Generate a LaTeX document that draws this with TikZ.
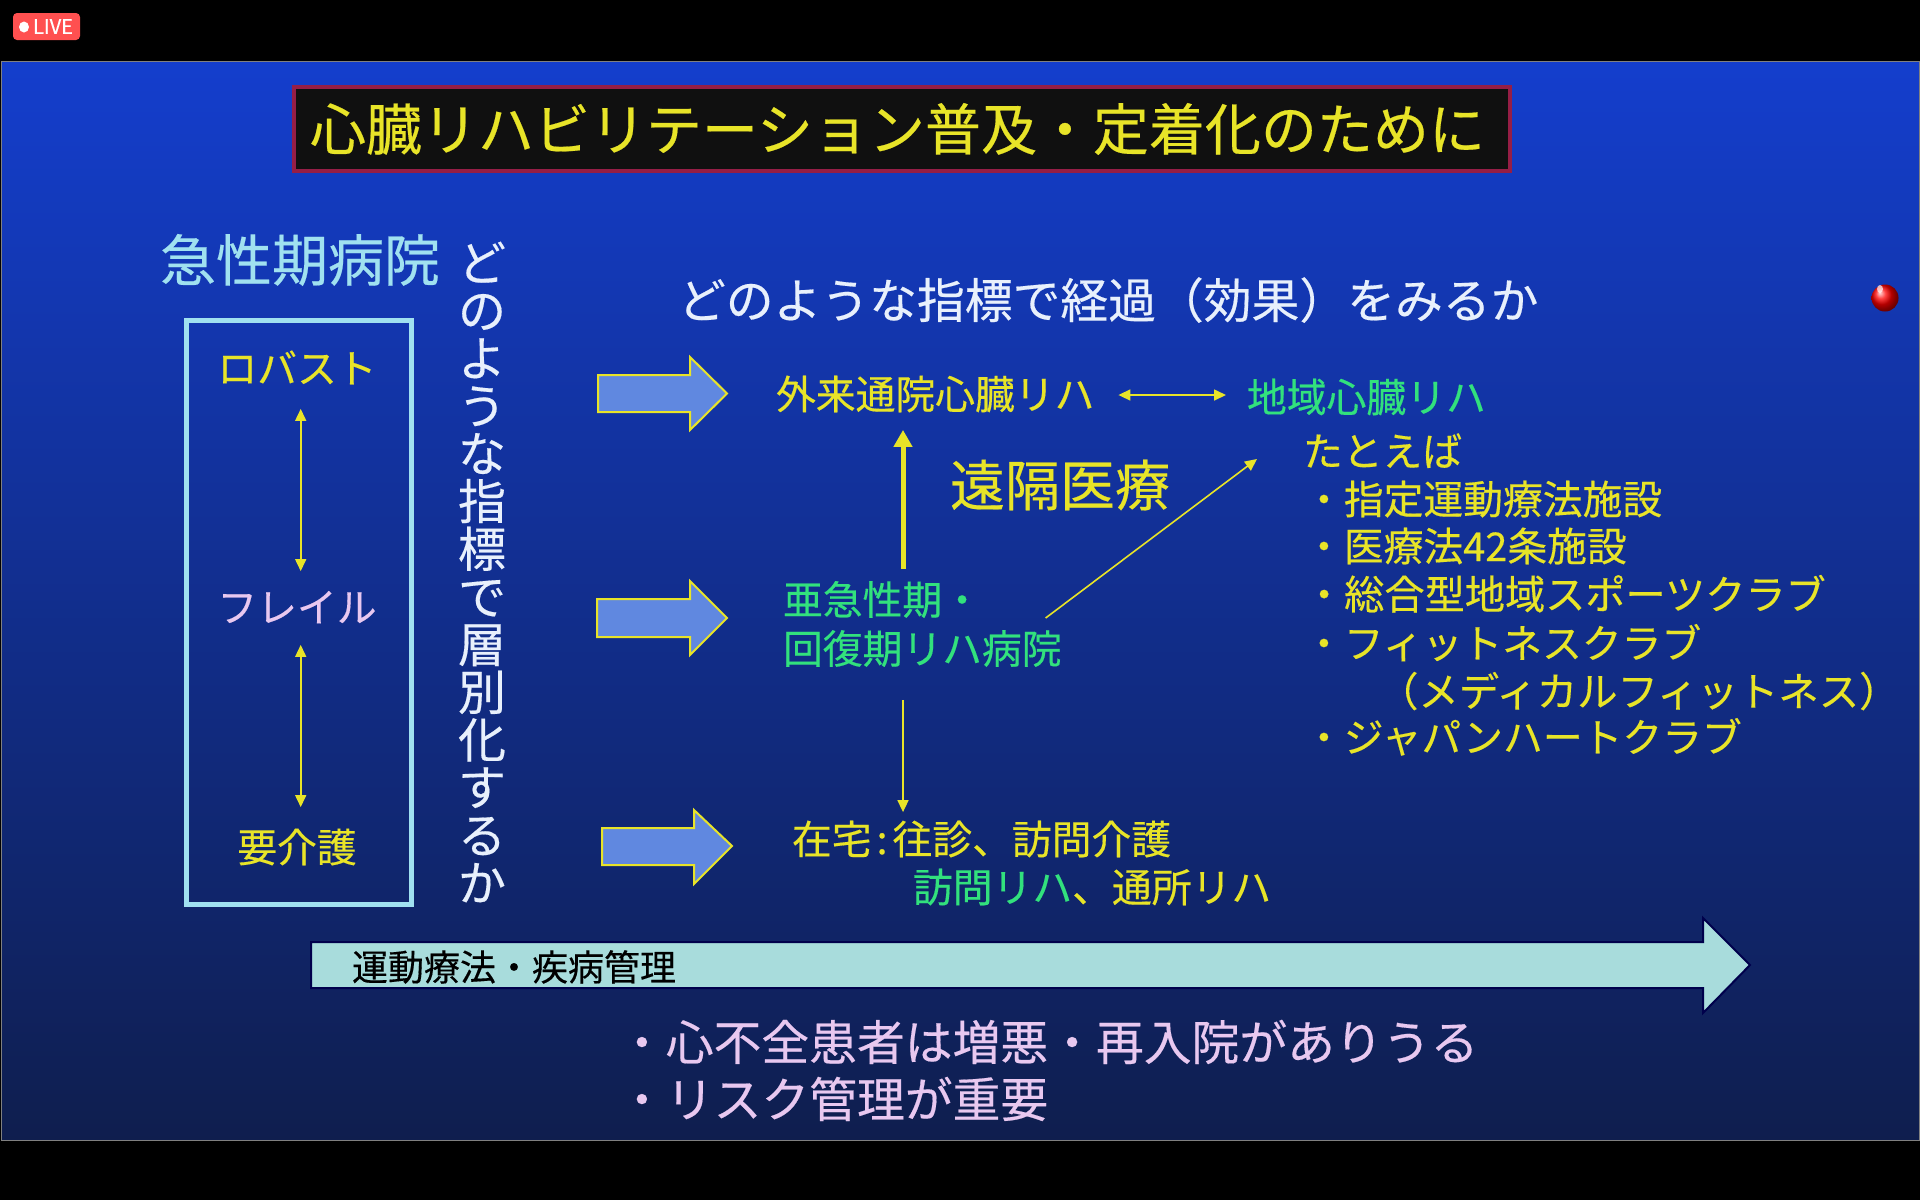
\documentclass[tikz,border=0pt]{standalone}
\usepackage{fontspec}
\setmainfont{Noto Sans CJK JP}[RawFeature={embolden=0.35}]
\usetikzlibrary{arrows.meta,calc}
\definecolor{slidetop}{RGB}{20,62,205}
\definecolor{slidemid}{RGB}{17,50,165}
\definecolor{slidebot}{RGB}{15,30,78}
\definecolor{ylw}{RGB}{232,228,40}
\definecolor{grn}{RGB}{50,225,125}
\definecolor{pnk}{RGB}{232,200,240}
\definecolor{cyn}{RGB}{160,225,240}
\definecolor{wht}{RGB}{232,240,252}
\definecolor{blk}{RGB}{16,16,16}
\definecolor{blockblue}{RGB}{96,136,224}
\definecolor{teal}{RGB}{168,220,220}
\definecolor{titleedge}{RGB}{150,30,70}
\definecolor{liver}{RGB}{255,80,80}
\tikzset{
  x=0.5pt,y=-0.5pt,
  lbl/.style={inner sep=0pt,outer sep=0pt,anchor=west},
  szA/.style={lbl,text height=17.5pt,text depth=2.4pt,font=\fontsize{19.9}{24.5}\selectfont},
  szB/.style={lbl,text height=21.1pt,text depth=2.9pt,font=\fontsize{23.9}{28}\selectfont},
  szC/.style={lbl,text height=24.6pt,text depth=3.4pt,font=\fontsize{28}{32}\selectfont},
  szE/.style={lbl,text height=15.8pt,text depth=2.2pt,font=\fontsize{18}{22}\selectfont},
  blockarrow/.style={draw=ylw,line width=1pt,fill=blockblue,line join=miter},
  thinarrow/.style={draw=ylw,line width=0.8pt,-{Triangle[length=6pt,width=5.5pt]},fill=none},
  thindouble/.style={draw=ylw,line width=0.8pt,{Triangle[length=6pt,width=5.5pt,fill=ylw]}-{Triangle[length=6pt,width=5.5pt,fill=ylw]}},
  thickarrow/.style={draw=ylw,line width=2.5pt,-{Triangle[length=8.5pt,width=9pt]}},
}
\begin{document}
\begin{tikzpicture}
\useasboundingbox (0,0) rectangle (1920,1200);
\fill[black] (0,0) rectangle (1920,1200);
% slide
\shade[top color=slidetop,middle color=slidemid,bottom color=slidebot] (1,61) rectangle (1919,1140);
\draw[gray,line width=0.5pt] (1,61) rectangle (1919,1140);
% live badge
\fill[liver,rounded corners=2pt] (13,13) rectangle (80,40);
\fill[white] (24,27) ellipse (5 and 5.5);
\node[lbl,text=white,font=\fontsize{10}{11}\selectfont] (live) at (33,26.5) {LIVE};
% title
\draw[titleedge,fill=blk,line width=1.6pt] (294,87) rectangle (1510,171);
\node[szC,text=ylw] (title) at (310,129) {心臓リハビリテーション普及・定着化のために};
% left column
\node[szC,text=cyn] (acute) at (160,260) {急性期病院};
\draw[cyn,line width=2.5pt] (186,320) rectangle (411,904);
\node[szA,text=ylw,anchor=center] (robust) at (297,368) {ロバスト};
\node[szA,text=pnk,anchor=center] (frail) at (297,607) {フレイル};
\node[szA,text=ylw,anchor=center] (care) at (297,847) {要介護};
\draw[thindouble,shorten <=10.5pt,shorten >=8pt] ([shift={(3.7,0)}]robust.south) -- ([shift={(3.7,0)}]frail.north);
\draw[thindouble,shorten <=9pt,shorten >=10pt] ([shift={(3.7,0)}]frail.south) -- ([shift={(3.7,0)}]care.north);
% vertical text
\node[inner sep=0pt,align=center,text=wht,font=\fontsize{24}{23.85}\selectfont] (vert) at (482,572) {ど\\の\\よ\\う\\な\\指\\標\\で\\層\\別\\化\\す\\る\\か};
% heading
\node[szB,text=wht] (head) at (678,300) {どのような指標で経過（効果）をみるか};
% block arrows
\draw[blockarrow] (598,375) -- (690,375) -- (690,357) -- (727,393.5) -- (690,430) -- (690,412) -- (598,412) -- cycle;
\draw[blockarrow] (597,599) -- (690,599) -- (690,581) -- (727,618) -- (690,655) -- (690,637) -- (597,637) -- cycle;
\draw[blockarrow] (602,828) -- (694,828) -- (694,810) -- (732,846) -- (694,884) -- (694,865) -- (602,865) -- cycle;
% centre column
\node[szA,text=ylw] (outpt) at (776,394) {外来通院心臓リハ};
\node[szA,text=grn] (region) at (1247,397) {地域心臓リハ};
\draw[thindouble] ([shift={(24,1)}]outpt.east) -- ([shift={(-21,-2)}]region.west);
\node[lbl,text height=24.2pt,text depth=3.3pt,text=ylw,font=\fontsize{27.5}{32}\selectfont] (tele) at (950,485) {遠隔医療};
\node[lbl,text=grn,align=left,font=\fontsize{19.9}{24.5}\selectfont] (subacute) at (783,624) {亜急性期・\\回復期リハ病院};
\draw[thickarrow] ($(subacute.north -| 903,0)+(0,-12)$) -- ([shift={(903-776,16)}]outpt.south west);
\coordinate (diagend) at (1257,459);
\draw[thinarrow] ([shift={(-16,-6)}]subacute.east) -- (diagend);
\node[szA,text=ylw] (home) at (792,839) {在宅\makebox[10.5pt][c]{:}往診、訪問介護};
\node[szA,text=grn] (home2) at (913,887) {訪問リハ\textcolor{ylw}{、通所リハ}};
\draw[thinarrow] ($(subacute.south -| 903,0)+(0,33)$) -- ([shift={(903-792,-7)}]home.north west);
% right list
\node[szA,text=ylw] (eg) at (1303,451) {たとえば};
\node[szA,text=ylw] (l1) at (1304,499) {・指定運動療法施設};
\node[szA,text=ylw] (l2) at (1304,546) {・医療法42条施設};
\node[lbl,text height=17.7pt,text depth=2.4pt,text=ylw,font=\fontsize{20.1}{24.5}\selectfont] (l3) at (1304,594) {・総合型地域スポーツクラブ};
\node[szA,text=ylw] (l4) at (1304,643) {・フィットネスクラブ};
\node[lbl,text height=17.8pt,text depth=2.4pt,text=ylw,font=\fontsize{20.2}{24.5}\selectfont] (l5) at (1378,691) {（メディカルフィットネス）};
\node[szA,text=ylw] (l6) at (1304,737) {・ジャパンハートクラブ};
% big arrow
\draw[draw=black!70!blue,fill=teal,line width=1pt] (311,942) -- (1703,942) -- (1703,918) -- (1750,965) -- (1703,1013) -- (1703,988) -- (311,988) -- cycle;
\node[szE,text=black] (therapy) at (352,967) {運動療法・疾病管理};
% bottom
\node[szB,text=pnk] (b1) at (618,1042) {・心不全患者は増悪・再入院がありうる};
\node[szB,text=pnk] (b2) at (618,1099) {・リスク管理が重要};
% pointer ball
\shade[ball color=red] (1885,298) circle (13.5);
\fill[white,opacity=0.7] (1880,289) ellipse (3 and 4);
\end{tikzpicture}
\end{document}
